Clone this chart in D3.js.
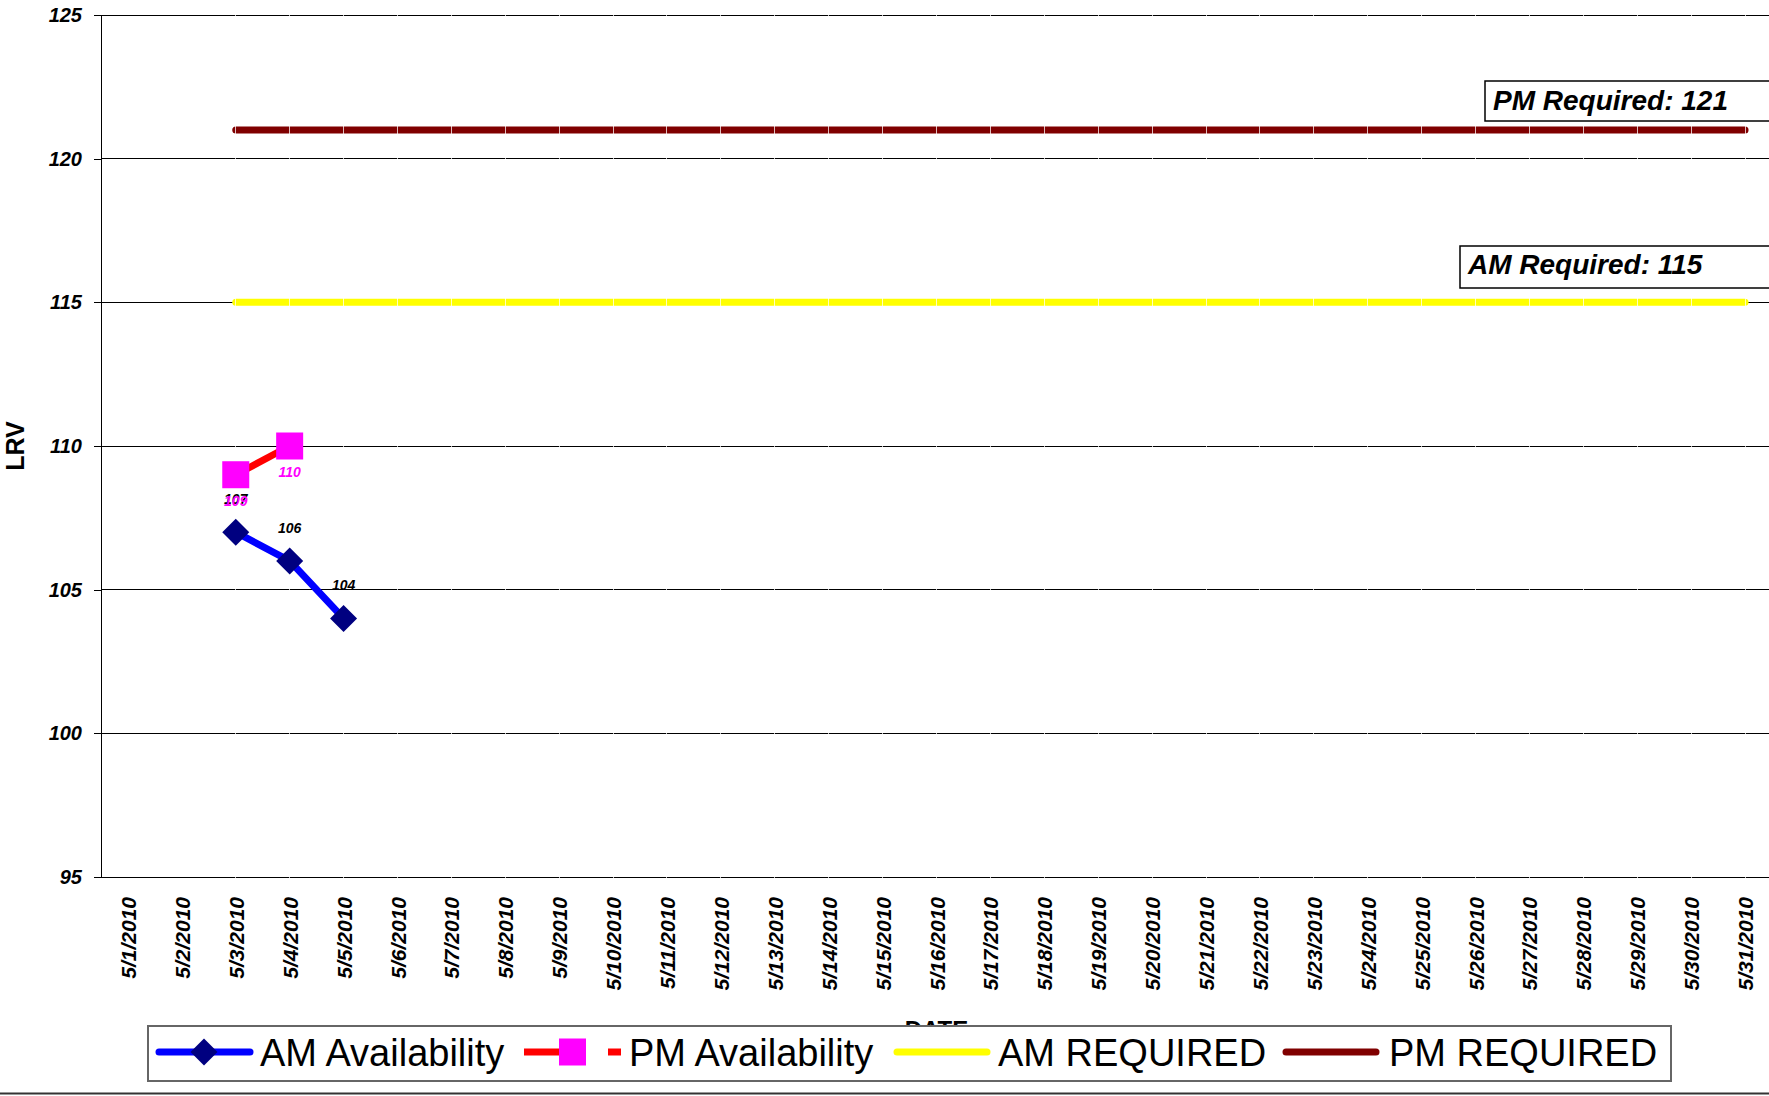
<!DOCTYPE html>
<html>
<head>
<meta charset="utf-8">
<script src="https://cdn.jsdelivr.net/npm/d3@7"></script>
<style>
  html, body { margin: 0; padding: 0; background: #fff; }
  svg { display: block; font-family: "Liberation Sans", Arial, sans-serif; }
</style>
</head>
<body>
<svg id="chart" width="1769" height="1096"></svg>
<script>
// ---------- DATA ----------
const dates = ["5/1/2010","5/2/2010","5/3/2010","5/4/2010","5/5/2010","5/6/2010","5/7/2010","5/8/2010",
  "5/9/2010","5/10/2010","5/11/2010","5/12/2010","5/13/2010","5/14/2010","5/15/2010","5/16/2010",
  "5/17/2010","5/18/2010","5/19/2010","5/20/2010","5/21/2010","5/22/2010","5/23/2010","5/24/2010",
  "5/25/2010","5/26/2010","5/27/2010","5/28/2010","5/29/2010","5/30/2010","5/31/2010"];
const amAvailability = [null,null,107,106,104,null,null,null,null,null,null,null,null,null,null,null,
  null,null,null,null,null,null,null,null,null,null,null,null,null,null,null];
const pmAvailability = [null,null,109,110,null,null,null,null,null,null,null,null,null,null,null,null,
  null,null,null,null,null,null,null,null,null,null,null,null,null,null,null];
const amRequired = [null,null,115,115,115,115,115,115,115,115,115,115,115,115,115,115,
  115,115,115,115,115,115,115,115,115,115,115,115,115,115,115];
const pmRequired = [null,null,121,121,121,121,121,121,121,121,121,121,121,121,121,121,
  121,121,121,121,121,121,121,121,121,121,121,121,121,121,121];
const yTicks = [95,100,105,110,115,120,125];
const legendLabels = ["AM Availability","PM Availability","AM REQUIRED","PM REQUIRED"];
const annotations = ["PM Required: 121","AM Required: 115"];
const axisTitles = {x: "DATE", y: "LRV"};

// ---------- LAYOUT ----------
const svg = d3.select("#chart");
const plot = {left: 101, right: 1772, top: 15, bottom: 877};
const x = d3.scalePoint().domain(dates).range([plot.left, plot.right]).padding(0.5);
const y = d3.scaleLinear().domain([95, 125]).range([plot.bottom, plot.top]);

const toPts = arr => dates.map((d, i) => ({d, v: arr[i]})).filter(p => p.v !== null);

// gridlines
svg.append("g").selectAll("line").data(yTicks.filter(t => t > 95)).join("line")
  .attr("x1", plot.left).attr("x2", 1769)
  .attr("y1", d => y(d)).attr("y2", d => y(d))
  .attr("stroke", "#000").attr("stroke-width", 1).attr("shape-rendering", "crispEdges");

// y axis
const yAxis = d3.axisLeft(y).tickValues(yTicks).tickSize(7).tickSizeOuter(0).tickPadding(12);
const yg = svg.append("g").attr("transform", `translate(${plot.left},0)`).call(yAxis);
yg.select(".domain").attr("stroke", "#000").attr("stroke-width", 1).attr("shape-rendering", "crispEdges");
yg.selectAll(".tick line").attr("stroke", "#000").attr("shape-rendering", "crispEdges");
yg.selectAll(".tick text").attr("font-size", 20).attr("font-weight", "bold").attr("font-style", "italic")
  .attr("fill", "#000").attr("font-family", "'Liberation Sans', Arial, sans-serif");

// x axis
const xAxis = d3.axisBottom(x).tickSize(0).tickSizeOuter(0);
const xg = svg.append("g").attr("transform", `translate(0,${plot.bottom})`).call(xAxis);
xg.select(".domain").attr("d", `M${plot.left - 7},0H1769`).attr("stroke", "#000")
  .attr("stroke-width", 1).attr("shape-rendering", "crispEdges");
xg.selectAll(".tick text")
  .attr("transform", "rotate(-90)")
  .attr("text-anchor", "end").attr("x", -20).attr("y", 0).attr("dy", "0.36em")
  .attr("font-size", 21).attr("font-weight", "bold").attr("font-style", "italic").attr("fill", "#000")
  .attr("font-family", "'Liberation Sans', Arial, sans-serif");

// axis titles
svg.append("text").attr("transform", `translate(24,446) rotate(-90)`)
  .attr("text-anchor", "middle").attr("font-size", 25).attr("font-weight", "bold").text(axisTitles.y);
svg.append("text").attr("x", (plot.left + plot.right) / 2).attr("y", 1038)
  .attr("text-anchor", "middle").attr("font-size", 24).attr("font-weight", "bold").text(axisTitles.x);

// required lines
const line = d3.line().x(p => x(p.d)).y(p => y(p.v));
svg.append("path").datum(toPts(amRequired)).attr("d", line)
  .attr("fill", "none").attr("stroke", "#ffff00").attr("stroke-width", 7).attr("stroke-linecap", "round");
svg.append("path").datum(toPts(pmRequired)).attr("d", line)
  .attr("fill", "none").attr("stroke", "#800000").attr("stroke-width", 7).attr("stroke-linecap", "round");

// faint white marks at category positions where data exist
svg.append("g").selectAll("line").data(toPts(amRequired)).join("line")
  .attr("x1", p => x(p.d)).attr("x2", p => x(p.d)).attr("y1", plot.top).attr("y2", plot.bottom + 1)
  .attr("stroke", "#fff").attr("stroke-opacity", 0.75).attr("stroke-width", 1).attr("shape-rendering", "crispEdges");

// annotation boxes
const ann = [{t: annotations[0], bx: 1485, by: 81, bh: 40, tx: 1493, ty: 110},
             {t: annotations[1], bx: 1460, by: 246, bh: 42, tx: 1468, ty: 274}];
ann.forEach(a => {
  svg.append("rect").attr("x", a.bx).attr("y", a.by).attr("width", 400).attr("height", a.bh)
    .attr("fill", "#fff").attr("stroke", "#000").attr("stroke-width", 1.5);
  svg.append("text").attr("x", a.tx).attr("y", a.ty).attr("font-size", 28).attr("font-weight", "bold")
    .attr("font-style", "italic").text(a.t);
});

// PM availability
const pmPts = toPts(pmAvailability);
svg.append("path").datum(pmPts).attr("d", line).attr("fill", "none")
  .attr("stroke", "#ff0000").attr("stroke-width", 7);
svg.append("g").selectAll("rect").data(pmPts).join("rect")
  .attr("x", p => x(p.d) - 13.5).attr("y", p => y(p.v) - 13.5).attr("width", 27).attr("height", 27)
  .attr("fill", "#ff00ff");

// AM availability
const amPts = toPts(amAvailability);
svg.append("path").datum(amPts).attr("d", line).attr("fill", "none")
  .attr("stroke", "#0000ff").attr("stroke-width", 7);
const diamond = (cx, cy, r) => `M${cx},${cy - r}L${cx + r},${cy}L${cx},${cy + r}L${cx - r},${cy}Z`;
svg.append("g").selectAll("path").data(amPts).join("path")
  .attr("d", p => diamond(x(p.d), y(p.v), 13.5)).attr("fill", "#000080");

// data labels
svg.append("g").selectAll("text").data(amPts).join("text")
  .attr("x", p => x(p.d)).attr("y", p => y(p.v) - 28).attr("text-anchor", "middle")
  .attr("font-size", 14).attr("font-weight", "bold").attr("font-style", "italic").attr("fill", "#000")
  .text(p => p.v);
svg.append("g").selectAll("text").data(pmPts).join("text")
  .attr("x", p => x(p.d)).attr("y", p => y(p.v) + 31).attr("text-anchor", "middle")
  .attr("font-size", 14).attr("font-weight", "bold").attr("font-style", "italic").attr("fill", "#ff00ff")
  .text(p => p.v);

// legend
const lg = svg.append("g");
lg.append("rect").attr("x", 148).attr("y", 1026).attr("width", 1523).attr("height", 55)
  .attr("fill", "#fff").attr("stroke", "#666").attr("stroke-width", 2);
const ly = 1052;
// AM availability
lg.append("line").attr("x1", 159).attr("x2", 250).attr("y1", ly).attr("y2", ly)
  .attr("stroke", "#0000ff").attr("stroke-width", 7).attr("stroke-linecap", "round");
lg.append("path").attr("d", diamond(204, ly, 13.5)).attr("fill", "#000080");
// PM availability
lg.append("line").attr("x1", 524).attr("x2", 560).attr("y1", ly).attr("y2", ly)
  .attr("stroke", "#ff0000").attr("stroke-width", 7);
lg.append("line").attr("x1", 608).attr("x2", 621).attr("y1", ly).attr("y2", ly)
  .attr("stroke", "#ff0000").attr("stroke-width", 7);
lg.append("rect").attr("x", 559).attr("y", ly - 13.5).attr("width", 27).attr("height", 27).attr("fill", "#ff00ff");
// AM required
lg.append("line").attr("x1", 897).attr("x2", 987).attr("y1", ly).attr("y2", ly)
  .attr("stroke", "#ffff00").attr("stroke-width", 7).attr("stroke-linecap", "round");
// PM required
lg.append("line").attr("x1", 1286).attr("x2", 1376).attr("y1", ly).attr("y2", ly)
  .attr("stroke", "#800000").attr("stroke-width", 7).attr("stroke-linecap", "round");
const legendX = [260, 629, 998, 1389];
lg.selectAll("text.lt").data(legendLabels).join("text").attr("class", "lt")
  .attr("x", (d, i) => legendX[i]).attr("y", 1066).attr("font-size", 38).attr("fill", "#000").text(d => d);

// bottom frame line
svg.append("line").attr("x1", 0).attr("x2", 1769).attr("y1", 1093.5).attr("y2", 1093.5)
  .attr("stroke", "#333").attr("stroke-width", 2);
</script>
</body>
</html>
